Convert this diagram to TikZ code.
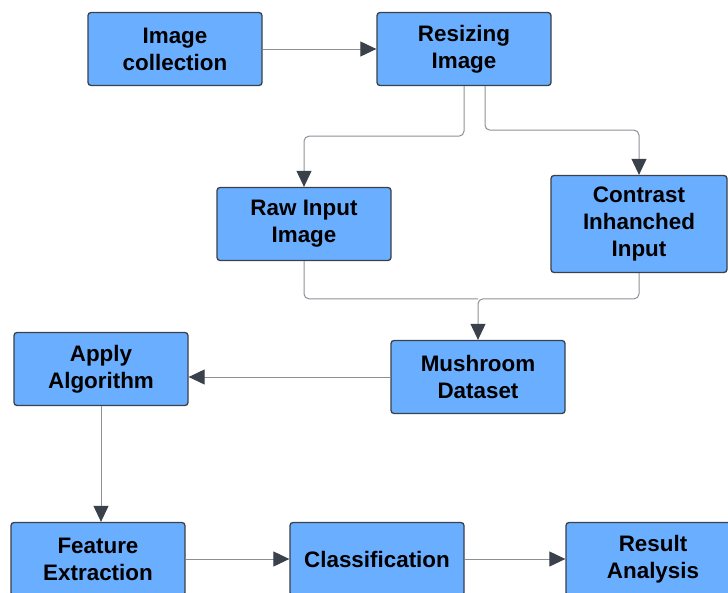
\documentclass[tikz,border=0pt]{standalone}
\usepackage{fontspec}
\setmainfont{Liberation Sans}
\usetikzlibrary{positioning,arrows.meta}
\definecolor{boxblue}{HTML}{6AAEFF}
\definecolor{boxline}{HTML}{3A414A}
\definecolor{wire}{HTML}{8C9096}

\begin{document}
\begin{tikzpicture}[x=1pt,y=-1pt,on grid,
  box/.style={draw=boxline,line width=1.3pt,fill=boxblue,rounded corners=3pt,
    minimum width=174pt,minimum height=73pt,align=center,inner sep=2pt,
    font=\bfseries\fontsize{22.4}{27}\selectfont},
  line/.style={draw=wire,line width=1pt,rounded corners=5pt},
  flow/.style={line,-{Triangle[length=16pt,width=15pt,color=boxline]}}]
            \useasboundingbox (0,0) rectangle (728,592);
            \node [box] (coll) at (175,49) {Image\\collection};
            \node [box] [right=289pt of coll] (resize) {Resizing\\Image};
            \node [box] [below left=175pt and 160pt of resize] (raw) {Raw Input\\Image};
            \node [box, minimum width=176pt, minimum height=97pt] [right=335pt of raw] (contrast) {Contrast\\Inhanched\\Input};
            \node [box] at (478,377) (mush) {Mushroom\\Dataset};
            \node [box] [left=377pt of mush, yshift=8pt] (algo) {Apply\\Algorithm};
            \node [box] at (98,559) (feat) {Feature\\Extraction};
            \node [box] [right=279pt of feat] (cls) {Classification};
            \node [box] [right=276pt of cls] (res) {Result\\Analysis};
            \coordinate [above=41pt of mush.north] (join);
            \draw[flow] (coll) -- (resize);
            \draw[flow] (resize.south) -- ++(0,50) -| (raw);
            \draw[flow] ([xshift=21pt]resize.south) -- ++(0,44) -| (contrast);
            \draw[line] (raw) |- (join);
            \draw[flow] (contrast) |- (join) -- (mush);
            \draw[flow] (mush.west) -- (mush.west -| algo.east);
            \draw[flow] (algo.south) -- (algo.south |- feat.north);
            \draw[flow] (feat) -- (cls);
            \draw[flow] (cls) -- (res);
\end{tikzpicture}
\end{document}
